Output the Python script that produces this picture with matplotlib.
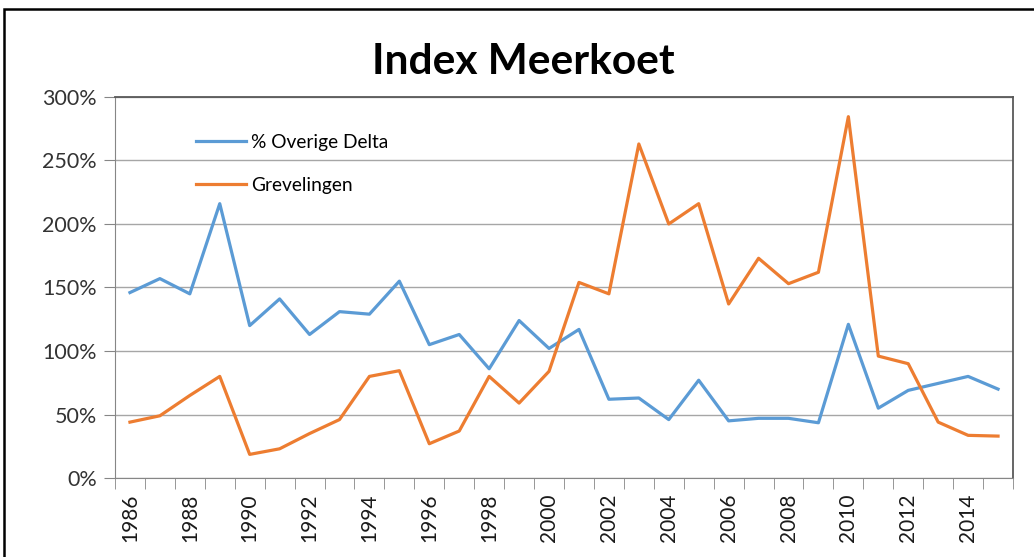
"""Index Meerkoet: % Overige Delta vs Grevelingen, 1986-2015."""

import matplotlib.pyplot as plt
from matplotlib.patches import Rectangle
from matplotlib.ticker import FuncFormatter

plt.rcParams["font.family"] = ["Lato", "DejaVu Sans"]

years = list(range(1986, 2016))
overige_delta = [146, 157, 145, 216, 120, 141, 113, 131, 129, 155,
                 105, 113, 86, 124, 102, 117, 62, 63, 46, 77,
                 45, 47, 47, 43.5, 121, 55, 69, 74.5, 80, 70]
grevelingen = [44, 49, 65, 80, 18.6, 23, 35, 46, 80, 84.5,
               27, 37, 80, 59, 84, 154, 145, 263, 200, 216,
               137, 173, 153, 162, 284.5, 96, 90, 44, 33.6, 33]

BLUE = "#5B9BD5"
ORANGE = "#ED7D31"

fig = plt.figure(figsize=(10.34, 5.57), dpi=100)
ax = fig.add_axes([0.1112, 0.1418, 0.9797 - 0.1112, 0.8259 - 0.1418])

x = list(range(len(years)))
ax.plot(x, overige_delta, color=BLUE, linewidth=2.3, label="% Overige Delta")
ax.plot(x, grevelingen, color=ORANGE, linewidth=2.3, label="Grevelingen")

ax.set_xlim(-0.5, len(years) - 0.5)
ax.set_ylim(0, 300)
ax.set_yticks(range(0, 301, 50))
ax.yaxis.set_major_formatter(FuncFormatter(lambda v, _: f"{int(v)}%"))
ax.grid(axis="y", color="#a6a6a6", linewidth=1)
ax.set_axisbelow(True)

# category axis: tick marks on the boundaries, labels every second year
ax.set_xticks([i - 0.5 for i in range(len(years) + 1)], minor=True)
ax.set_xticks(x[::2])
ax.set_xticklabels([str(y) for y in years[::2]], rotation=90)
ax.tick_params(axis="x", which="major", length=0, pad=11, labelsize=15)
ax.tick_params(axis="x", which="minor", length=8, color="#868686")
ax.tick_params(axis="y", length=8, color="#868686", labelsize=15.5,
               labelcolor="#333333", pad=5)
for lab in ax.get_xticklabels():
    lab.set_color("#1a1a1a")

for side in ("left", "bottom"):
    ax.spines[side].set_color("#868686")
for side in ("top", "right"):
    ax.spines[side].set_color("#595959")
    ax.spines[side].set_linewidth(1.3)

ax.legend(loc="upper left", bbox_to_anchor=(0.182, 0.773), bbox_transform=fig.transFigure,
          frameon=False, fontsize=13.8, handlelength=2.6, handletextpad=0.26,
          labelspacing=1.35, borderaxespad=0)

fig.text(0.506, 0.888, "Index Meerkoet", ha="center", va="center",
         fontsize=30.5, fontweight="bold")

# outer chart frame
fig.patches.append(Rectangle((4 / 1034, -0.1), 1.2, 1.1 - 9 / 557,
                             transform=fig.transFigure, fill=False,
                             edgecolor="black", linewidth=1.8))

fig.savefig("out.png", dpi=100)
